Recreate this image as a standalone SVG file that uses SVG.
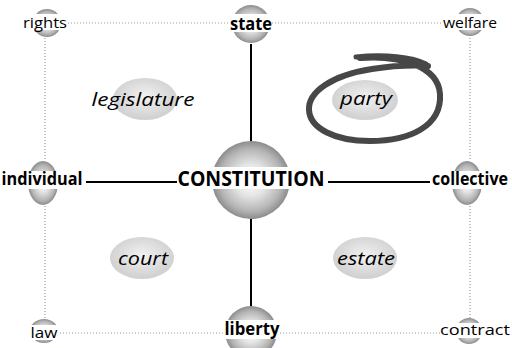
<svg xmlns="http://www.w3.org/2000/svg" width="512" height="348" viewBox="0 0 512 348">
<style>
.dot{stroke:#9a9a9a;stroke-width:1.2;stroke-dasharray:1 2;fill:none}
.sol{stroke:#000;stroke-width:2;fill:none}
.lab{font-family:"Open Sans","Liberation Sans",sans-serif;fill:#000;text-anchor:middle}
.b{font-weight:bold}
.it{font-style:italic;font-size:19px}
.band{fill:#fff}
.sph{fill:url(#sg)}
.ell{fill:url(#eg)}
.brush{fill:none;stroke:#474747;stroke-linecap:round}
</style>
<defs>
<radialGradient id="sg" cx="0.5" cy="0.5" r="0.5">
<stop offset="0" stop-color="#ffffff"/>
<stop offset="0.4" stop-color="#e6e6e6"/>
<stop offset="0.8" stop-color="#b4b4b4"/>
<stop offset="1" stop-color="#8c8c8c"/>
</radialGradient>
<radialGradient id="eg" cx="0.5" cy="0.45" r="0.5">
<stop offset="0" stop-color="#f2f2f2"/>
<stop offset="0.75" stop-color="#dadada"/>
<stop offset="1" stop-color="#d2d2d2"/>
</radialGradient>
</defs>
<g id="connectors">
<path class="dot" d="M68 23H230M272 23H443M60 333H226M280 333H440M45 38V160M45 206V320M470 38V160M470 206V318"/>
<path class="sol" d="M86 182H177M328 182H430M251 44V142M251 218V308"/>
</g>
<g id="rights"><circle class="sph" cx="47" cy="23" r="14"/><rect class="band" x="30" y="14" width="34" height="16"/><text class="lab" x="45" y="28" font-size="15" textLength="44" lengthAdjust="spacingAndGlyphs">rights</text></g>
<g id="state"><circle class="sph" cx="251" cy="24" r="19"/><rect class="band" x="230" y="14" width="42" height="18"/><text class="lab b" x="251" y="30" font-size="17" textLength="42" lengthAdjust="spacingAndGlyphs">state</text></g>
<g id="welfare"><circle class="sph" cx="470" cy="22" r="14"/><rect class="band" x="454" y="14" width="32" height="16"/><text class="lab" x="470" y="28" font-size="15" textLength="54" lengthAdjust="spacingAndGlyphs">welfare</text></g>
<g id="individual"><ellipse class="sph" cx="43" cy="183" rx="15" ry="22"/><rect class="band" x="26" y="171" width="36" height="18"/><text class="lab b" x="42" y="185" font-size="17" textLength="81" lengthAdjust="spacingAndGlyphs">individual</text></g>
<g id="constitution"><circle class="sph" cx="251" cy="180" r="39"/><rect class="band" x="210" y="167" width="82" height="22"/><text class="lab b" x="251" y="186" font-size="21" textLength="147" lengthAdjust="spacingAndGlyphs">CONSTITUTION</text></g>
<g id="collective"><ellipse class="sph" cx="467" cy="183" rx="15" ry="22"/><rect class="band" x="450" y="171" width="34" height="18"/><text class="lab b" x="470" y="185" font-size="17" textLength="76" lengthAdjust="spacingAndGlyphs">collective</text></g>
<g id="law"><ellipse class="sph" cx="44" cy="331" rx="14" ry="12"/><rect class="band" x="28" y="325" width="32" height="15"/><text class="lab" x="44" y="338" font-size="15" textLength="27" lengthAdjust="spacingAndGlyphs">law</text></g>
<g id="liberty"><circle class="sph" cx="251" cy="332" r="26"/><rect class="band" x="223" y="320" width="56" height="19"/><text class="lab b" x="252" y="335" font-size="17" textLength="55" lengthAdjust="spacingAndGlyphs">liberty</text></g>
<g id="contract"><ellipse class="sph" cx="469" cy="331" rx="13" ry="13"/><rect class="band" x="454" y="323" width="30" height="15"/><text class="lab" x="475" y="335" font-size="15" textLength="70" lengthAdjust="spacingAndGlyphs">contract</text></g>
<g id="legislature"><ellipse class="ell" cx="145" cy="99" rx="32" ry="21"/><text class="lab it" x="143" y="106" textLength="103" lengthAdjust="spacingAndGlyphs">legislature</text></g>
<g id="party"><ellipse class="ell" cx="365" cy="100" rx="33" ry="20"/><text class="lab it" x="366" y="105" textLength="52" lengthAdjust="spacingAndGlyphs">party</text>
<path class="brush" stroke-width="6" d="M360 58C400 55 438 66 440 94C442 126 410 141 370 141C334 141 310 128 309 110C308 92 332 75 372 69C392 66 412 65 428 66"/>
<path class="brush" stroke-width="5" d="M356 57C385 54 412 57 426 64"/>
</g>
<g id="court"><ellipse class="ell" cx="142" cy="258" rx="32" ry="21"/><text class="lab it" x="143" y="265" textLength="50" lengthAdjust="spacingAndGlyphs">court</text></g>
<g id="estate"><ellipse class="ell" cx="365" cy="258" rx="32" ry="21"/><text class="lab it" x="366" y="265" textLength="58" lengthAdjust="spacingAndGlyphs">estate</text></g>
</svg>
